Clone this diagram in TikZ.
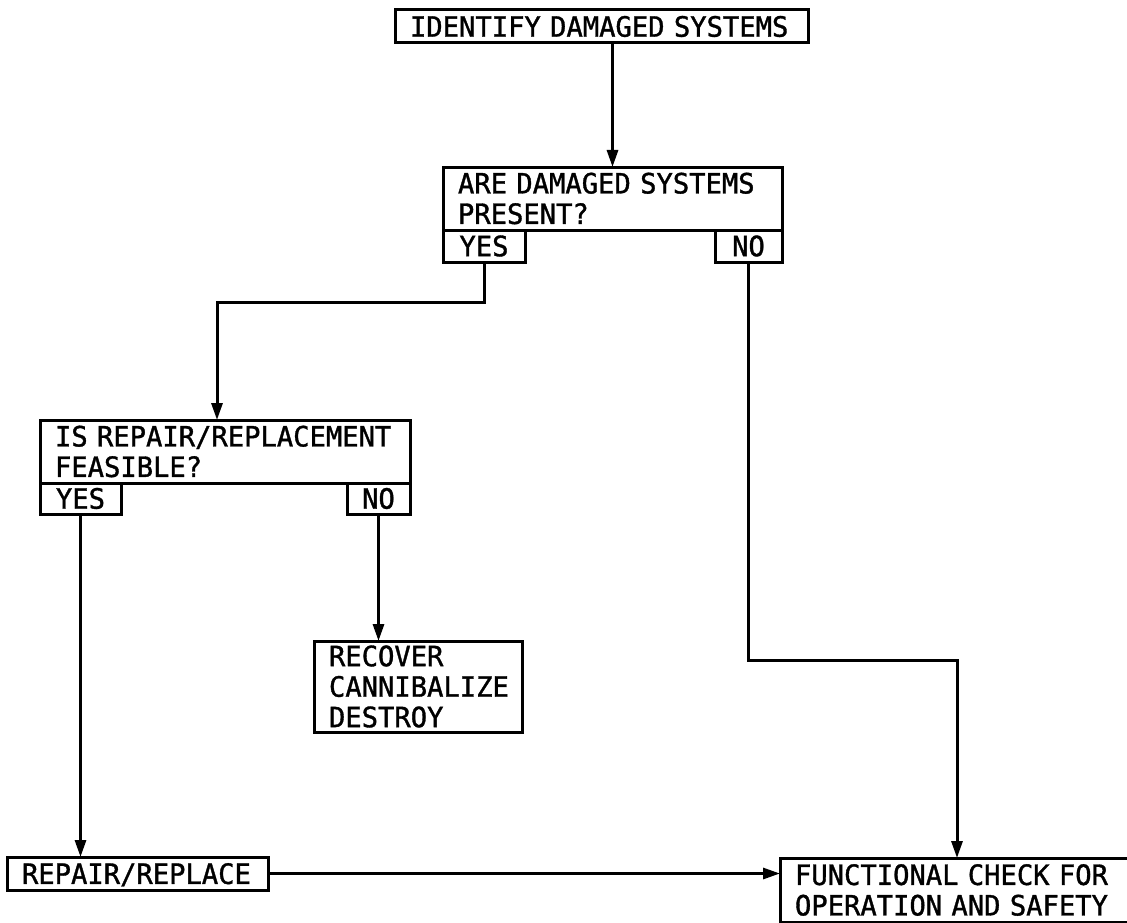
\documentclass[tikz,border=0pt]{standalone}
\usepackage{fontspec}
\newfontfamily\chartfont{DejaVu Sans Mono}[FakeStretch=0.97,FakeBold=1.2]
\usetikzlibrary{arrows.meta}
\tikzset{
  box/.style={draw,line width=3pt,anchor=north west,outer sep=0pt,inner ysep=0pt,
    font=\chartfont\fontsize{28}{30.5}\selectfont},
  textbox/.style={box,align=left,inner xsep=15pt},
  answer/.style={box,align=center,inner xsep=0pt}
}
\begin{document}
\begin{tikzpicture}[x=1pt,y=-1pt,>={Triangle[length=17pt,width=11pt]},line width=3pt]
  \useasboundingbox (0,0) rectangle (1127,923);
  \node[textbox,text width=383pt,minimum height=33pt] (ident) at (395,10) {IDENTIFY DAMAGED SYSTEMS};
  \node[textbox,text width=309pt,minimum height=63pt] (present) at (443,167) {ARE DAMAGED SYSTEMS\\PRESENT?};
  \node[answer,minimum width=82pt,minimum height=32pt] (presyes) at (443,230) {YES};
  \node[answer,minimum width=67pt,minimum height=32pt] (presno) at (715,230) {NO};
  \node[textbox,text width=340pt,minimum height=63pt] (feas) at (40,420) {IS REPAIR/REPLACEMENT\\FEASIBLE?};
  \node[answer,minimum width=81pt,minimum height=31pt] (feasyes) at (40,483) {YES};
  \node[answer,minimum width=63pt,minimum height=31pt] (feasno) at (347,483) {NO};
  \node[textbox,text width=178pt,minimum height=91pt] (recover) at (314,641) {RECOVER\\CANNIBALIZE\\DESTROY};
  \node[textbox,text width=231pt,minimum height=33pt,text depth=0pt] (repair) at (7,857) {REPAIR/REPLACE};
  \node[textbox,text width=324pt,minimum height=64pt] (func) at (780,858) {FUNCTIONAL CHECK FOR\\OPERATION AND SAFETY};
  \coordinate (yesbend) at (217,302);
  \coordinate (nobend) at (957,660);
  \draw[->] (ident.south -| present.north) -- (present.north);
  \draw[->] (presyes.south) |- (yesbend) -- (yesbend |- feas.north);
  \draw[->] (presno.south) |- (nobend) -- (nobend |- func.north);
  \draw[->] (feasyes.south) -- (feasyes.south |- repair.north);
  \draw[->] (feasno.south) -- (feasno.south |- recover.north);
  \draw[->] (repair.east) -- (repair.east -| func.west);
\end{tikzpicture}
\end{document}
